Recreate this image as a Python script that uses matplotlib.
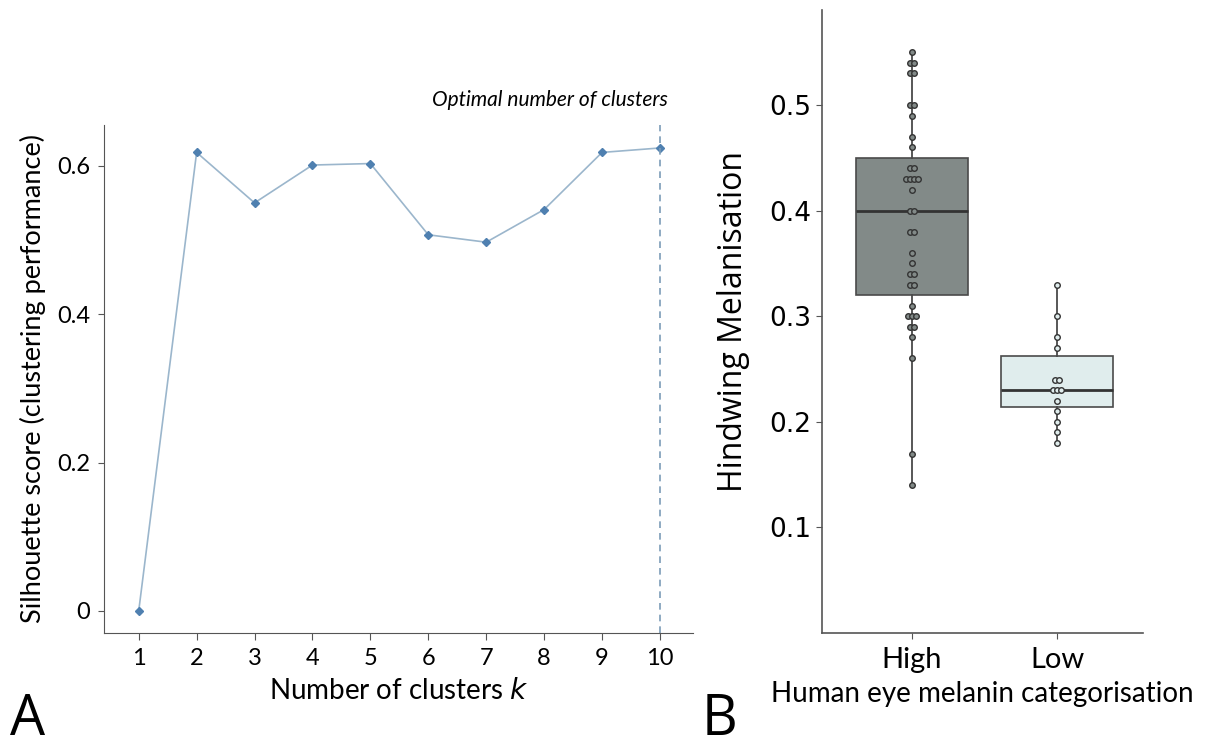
import numpy as np
import matplotlib.pyplot as plt
from collections import Counter

# Panel A: silhouette scores
k_values = [1, 2, 3, 4, 5, 6, 7, 8, 9, 10]
silhouette = [0.0, 0.618, 0.550, 0.601, 0.603, 0.507, 0.497, 0.541, 0.618, 0.624]
optimal_k = 10

# Panel B: hindwing melanisation per category
categories = ["High", "Low"]
high_vals = [0.55, 0.54, 0.54, 0.53, 0.53, 0.50, 0.50, 0.49, 0.47, 0.46,
             0.44, 0.44, 0.43, 0.43, 0.43, 0.43, 0.42, 0.40, 0.40, 0.38,
             0.38, 0.36, 0.35, 0.34, 0.34, 0.33, 0.33, 0.31, 0.30, 0.30,
             0.30, 0.29, 0.29, 0.28, 0.26, 0.17, 0.14]
low_vals = [0.33, 0.30, 0.28, 0.27, 0.24, 0.24, 0.23, 0.23, 0.23, 0.22,
            0.21, 0.20, 0.19, 0.18]
# box stats as drawn (q1, median, q3, whisker low, whisker high)
box_q1 = [0.32, 0.214]
box_med = [0.40, 0.23]
box_q3 = [0.45, 0.262]
box_lo = [0.14, 0.18]
box_hi = [0.55, 0.33]
box_colors = ["#828a88", "#e0eded"]

fig = plt.figure(figsize=(12.06, 7.51), dpi=100)

# ---- panel A
ax = fig.add_axes([0.0862, 0.1571, 0.4884, 0.6765])
ax.plot(k_values, silhouette, color="#9bb6cc", lw=1.2, marker="D",
        markersize=4.5, markerfacecolor="#4f80b0", markeredgecolor="#4f80b0")
ax.axvline(optimal_k, color="#7c9cb8", lw=1.2, ls=(0, (4, 3)))
ax.set_xlim(0.4, 10.57)
ax.set_ylim(-0.0297, 0.655)
ax.set_xticks(k_values)
ax.set_yticks([0, 0.2, 0.4, 0.6])
ax.set_yticklabels(["0", "0.2", "0.4", "0.6"])
for s in ["top", "right"]:
    ax.spines[s].set_visible(False)
for s in ["left", "bottom"]:
    ax.spines[s].set_color("#555555")
ax.tick_params(axis="y", length=4, color="#555555", labelsize=17, pad=6)
ax.tick_params(axis="x", length=5, color="#555555", labelsize=17, pad=6)
for lab in ax.get_xticklabels() + ax.get_yticklabels():
    lab.set_family("Lato")
ax.set_xlabel("Number of clusters $k$", fontsize=20, family="Lato", labelpad=6)
ax.set_ylabel("Silhouette score (clustering performance)", fontsize=19.5,
              family="Lato", labelpad=8)
ax.text(0.9576, 1.05, "Optimal number of clusters", transform=ax.transAxes,
        ha="right", va="center", style="italic", fontsize=15, family="Lato")

# ---- panel B
bx = fig.add_axes([0.6816, 0.1571, 0.2662, 0.8296])
stats = []
for i in range(2):
    stats.append(dict(med=box_med[i], q1=box_q1[i], q3=box_q3[i],
                      whislo=box_lo[i], whishi=box_hi[i], fliers=[]))
bp = bx.bxp(stats, positions=[0, 1], widths=0.77, patch_artist=True,
            showcaps=False, zorder=1)
for patch, c in zip(bp["boxes"], box_colors):
    patch.set_facecolor(c)
    patch.set_edgecolor("#4a4a4a")
    patch.set_linewidth(1.2)
for w in bp["whiskers"]:
    w.set_color("#4a4a4a")
    w.set_linewidth(1.3)
for m in bp["medians"]:
    m.set_color("#333333")
    m.set_linewidth(2)

step = 0.028
for pos, vals, c in zip([0, 1], [high_vals, low_vals], box_colors):
    counts = Counter(vals)
    xs, ys = [], []
    for v, n in counts.items():
        for j in range(n):
            xs.append(pos + (j - (n - 1) / 2) * step)
            ys.append(v)
    bx.scatter(xs, ys, s=16, facecolor=c, edgecolor="#333333",
               linewidth=1.0, zorder=3)

bx.set_xlim(-0.62, 1.59)
bx.set_ylim(0.0, 0.59)
bx.set_yticks([0.1, 0.2, 0.3, 0.4, 0.5])
bx.set_yticklabels(["0.1", "0.2", "0.3", "0.4", "0.5"])
bx.set_xticks([0, 1])
bx.set_xticklabels(categories)
for s in ["top", "right"]:
    bx.spines[s].set_visible(False)
for s in ["left", "bottom"]:
    bx.spines[s].set_color("#555555")
    bx.spines[s].set_linewidth(1.2)
bx.tick_params(axis="both", length=4, color="#555555", labelsize=19)
bx.tick_params(axis="x", pad=6)
bx.set_xlabel("Human eye melanin categorisation", fontsize=20, family="Lato",
              labelpad=6)
bx.set_ylabel("Hindwing Melanisation", fontsize=23, family="Open Sans",
              labelpad=14)
for lab in bx.get_yticklabels():
    lab.set_family("DejaVu Sans")
for lab in bx.get_xticklabels():
    lab.set_family("Lato")
    lab.set_fontsize(21)

fig.text(0.008, 0.003, "A", fontsize=40, family="Open Sans", va="bottom")
fig.text(0.582, 0.003, "B", fontsize=40, family="Open Sans", va="bottom")

fig.savefig("out.png", dpi=100)
